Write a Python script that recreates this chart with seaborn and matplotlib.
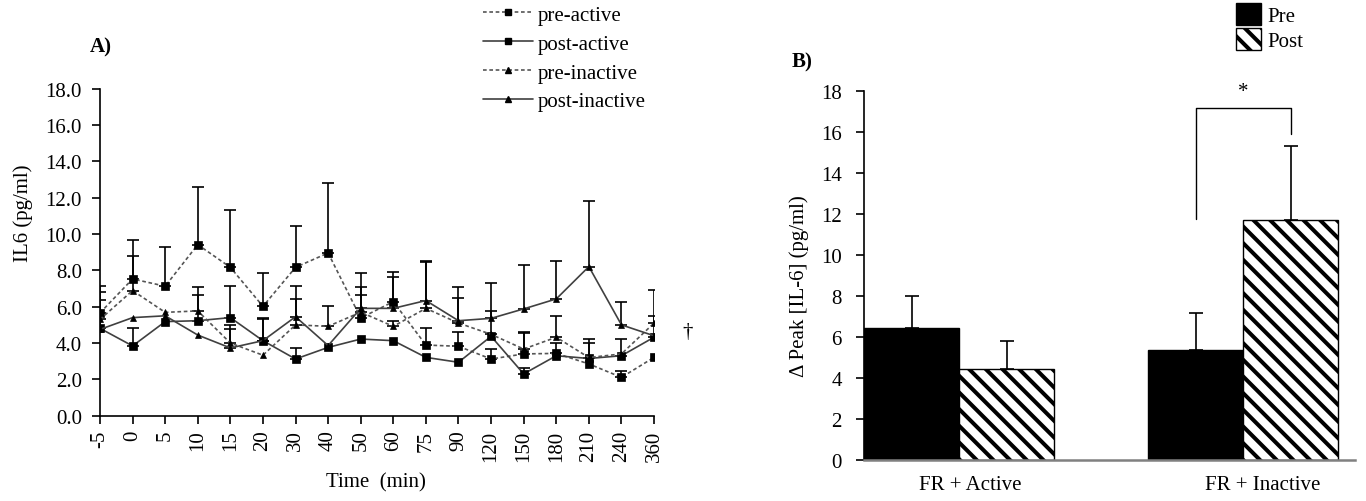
import numpy as np
import pandas as pd
import seaborn as sns
import matplotlib.pyplot as plt
from matplotlib.lines import Line2D
from matplotlib.patches import Patch

# time points (min)
times = ["-5", "0", "5", "10", "15", "20", "30", "40", "50", "60",
         "75", "90", "120", "150", "180", "210", "240", "360"]

# IL6 means (pg/ml) and upward SE
pre_active = [5.66, 7.53, 7.13, 9.42, 8.17, 6.02, 8.17, 8.96, 5.38, 6.28,
              3.89, 3.82, 3.12, 3.40, 3.43, 2.85, 2.11, 3.21]
pre_active_err = [1.50, 2.15, 2.14, 3.20, 3.15, 1.84, 2.30, 3.87, 1.27, 1.65,
                  0.96, 0.81, 0.55, 1.15, 0.57, 0.0, 0.33, 0.0]

post_active = [4.81, 3.84, 5.18, 5.23, 5.40, 4.13, 3.12, 3.76, 4.22, 4.13,
               3.21, 2.94, 4.37, 2.30, 3.30, 3.15, 3.30, 4.32]
post_active_err = [1.56, 1.00, 0.0, 1.42, 1.73, 1.23, 0.63, 0.0, 0.0, 0.0,
                   0.0, 0.0, 0.0, 0.33, 0.0, 0.85, 0.92, 1.19]

pre_inactive = [5.30, 6.89, 5.69, 5.77, 4.00, 3.33, 5.00, 4.92, 5.70, 4.92,
                5.91, 5.10, 4.48, 3.67, 4.32, 3.20, 3.40, 5.10]
pre_inactive_err = [1.53, 1.93, 0.0, 1.30, 1.00, 0.0, 1.43, 1.10, 1.37, 0.30,
                    2.54, 1.40, 1.31, 0.92, 1.15, 1.02, 0.0, 1.82]

post_inactive = [4.75, 5.40, 5.50, 4.44, 3.73, 4.13, 5.45, 3.86, 5.91, 5.91,
                 6.34, 5.23, 5.36, 5.88, 6.43, 8.21, 5.00, 4.40]
post_inactive_err = [0.0, 0.0, 0.0, 0.0, 1.05, 1.17, 1.68, 0.0, 1.95, 1.71,
                     2.20, 1.84, 1.95, 2.44, 2.11, 3.63, 1.28, 0.0]

# panel B: delta peak IL-6
groups = ["FR + Active", "FR + Inactive"]
peak_pre = [6.43, 5.37]
peak_pre_err = [1.58, 1.79]
peak_post = [4.43, 11.70]
peak_post_err = [1.38, 3.63]

sns.set_theme(style="ticks")
plt.rcParams["font.family"] = ["Liberation Serif", "DejaVu Serif"]
plt.rcParams["hatch.linewidth"] = 2.9
plt.rcParams["axes.edgecolor"] = "black"
plt.rcParams["xtick.color"] = "black"
plt.rcParams["ytick.color"] = "black"
plt.rcParams["text.color"] = "black"
plt.rcParams["axes.labelcolor"] = "black"

fig = plt.figure(figsize=(13.66, 5.02), dpi=100)
ax1 = fig.add_axes([0.0732, 0.170, 0.4056, 0.651])
ax2 = fig.add_axes([0.6325, 0.0817, 0.3594, 0.735])

fs = 15
dash = (0, (2.2, 1.6))
series = [
    ("pre-active", pre_active, pre_active_err, "s", dash, "#555555", 5.8),
    ("post-active", post_active, post_active_err, "s", "-", "#404040", 5.8),
    ("pre-inactive", pre_inactive, pre_inactive_err, "^", dash, "#555555", 5),
    ("post-inactive", post_inactive, post_inactive_err, "^", "-", "#404040", 5),
]

pos = np.arange(len(times))
for name, vals, errs, mk, ls, col, ms in series:
    df = pd.DataFrame({"time": times, "il6": vals})
    sns.pointplot(data=df, x="time", y="il6", order=times, errorbar=None,
                  color=col, marker=mk, linestyle=ls, markersize=ms,
                  linewidth=1.2, markerfacecolor="black", markeredgecolor="black",
                  markeredgewidth=0.5, ax=ax1)
    errs = np.array(errs)
    m = errs > 0
    ax1.errorbar(pos[m], np.array(vals)[m], yerr=[np.zeros(m.sum()), errs[m]],
                 fmt="none", ecolor="black", elinewidth=1.2, capsize=4.5,
                 capthick=1.2, zorder=1)

ax1.set_xlim(0, len(times) - 1)
ax1.set_ylim(0, 18)
ax1.set_yticks(np.arange(0, 18.1, 2))
ax1.set_yticklabels([f"{v:.1f}" for v in np.arange(0, 18.1, 2)])
ax1.set_xticks(pos)
ax1.set_xticklabels(times, rotation=90)
ax1.tick_params(axis="both", labelsize=fs, length=6, width=1.2, direction="out")
ax1.tick_params(axis="y", pad=7)
ax1.tick_params(axis="x", pad=4)
for s in ["left", "bottom"]:
    ax1.spines[s].set_linewidth(1.2)
sns.despine(ax=ax1)
ax1.set_xlabel("Time  (min)", fontsize=fs)
ax1.xaxis.set_label_coords(0.4975, -0.172)
ax1.set_ylabel("IL6 (pg/ml)", fontsize=fs)
ax1.yaxis.set_label_coords(-0.121, 0.623)
ax1.text(1.061, 0.256, "\u2020", transform=ax1.transAxes, fontsize=fs,
         ha="center", va="center")

handles = [Line2D([], [], color=c, linestyle=l, lw=1.2, marker=m,
                  markersize=ms * 0.75, markerfacecolor="black", markeredgecolor="black")
           for _, _, _, m, l, c, ms in series]
fig.legend(handles, [s[0] for s in series], loc="upper left",
           bbox_to_anchor=(483 / 1366, 1 - 6 / 502), frameon=False, fontsize=fs,
           handlelength=2.4, handletextpad=0.25, labelspacing=0.45,
           borderpad=0, borderaxespad=0)

# panel B bars
bar_df = pd.DataFrame({
    "group": groups * 2,
    "phase": ["Pre"] * 2 + ["Post"] * 2,
    "peak": peak_pre + peak_post,
})
sns.barplot(data=bar_df, x="group", y="peak", hue="phase", order=groups,
            hue_order=["Pre", "Post"], palette={"Pre": "black", "Post": "white"},
            width=0.67, edgecolor="black", linewidth=1, errorbar=None,
            legend=False, ax=ax2)
for bar in ax2.containers[1]:
    bar.set_hatch("\\\\")
for cont, errs in zip(ax2.containers, [peak_pre_err, peak_post_err]):
    xs = [b.get_x() + b.get_width() / 2 for b in cont]
    hs = [b.get_height() for b in cont]
    ax2.errorbar(xs, hs, yerr=[np.zeros(len(errs)), errs], fmt="none",
                 ecolor="black", elinewidth=1.2, capsize=5, capthick=1.2, zorder=3)

ax2.set_xlim(-0.335, 1.394)
ax2.set_ylim(0, 18)
ax2.set_yticks(np.arange(0, 19, 2))
ax2.set_xticks([0.04, 1.07], groups)
ax2.tick_params(axis="y", labelsize=fs, length=6, width=1.2, pad=10)
ax2.tick_params(axis="x", labelsize=fs, length=0, pad=11)
sns.despine(ax=ax2)
ax2.spines["left"].set_linewidth(1.2)
ax2.spines["bottom"].set_color("#808080")
ax2.spines["bottom"].set_linewidth(1.8)
ax2.set_xlabel("")
ax2.set_ylabel("\u0394 Peak [IL-6] (pg/ml)", fontsize=fs)
ax2.yaxis.set_label_coords(-0.112, 0.474)

# significance bracket
xl = 1 - 0.67 / 4
xr = 1 + 0.67 / 4
ax2.plot([xl, xl, xr, xr], [11.75, 17.15, 17.15, 15.9], color="black", lw=1,
         clip_on=False)
ax2.text(1.0, 18.0, "*", fontsize=fs, ha="center", va="center", clip_on=False)

fig.legend([Patch(facecolor="black", edgecolor="black"),
            Patch(facecolor="white", edgecolor="black", hatch="\\\\")],
           ["Pre", "Post"], loc="upper left",
           bbox_to_anchor=(1236 / 1366, 1 - 4 / 502), frameon=False, fontsize=fs,
           handlelength=1.2, handleheight=1.25, handletextpad=0.3,
           labelspacing=0.1, borderpad=0, borderaxespad=0)

fig.text(101 / 1366, 1 - 47 / 502, "A)", fontsize=fs, fontweight="bold",
         ha="center", va="center")
fig.text(802 / 1366, 1 - 62 / 502, "B)", fontsize=fs, fontweight="bold",
         ha="center", va="center")

fig.savefig("out.png", dpi=100)
